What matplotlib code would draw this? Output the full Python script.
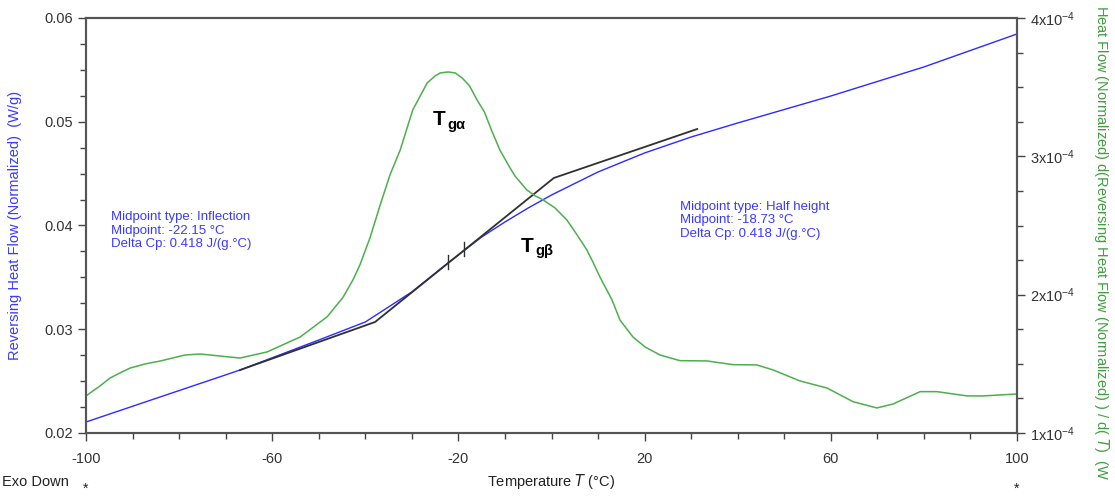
import numpy as np
import matplotlib
matplotlib.use("Agg")
import matplotlib.pyplot as plt
from matplotlib.ticker import MultipleLocator, FixedLocator, FuncFormatter

plt.rcParams['font.family'] = ['Liberation Sans', 'DejaVu Sans']
plt.rcParams['axes.unicode_minus'] = False

# reversing heat flow (W/g), left axis
temp_rev = [-100, -80, -66.9, -50, -40, -30, -22, -15, -10, -5, 0, 10, 20, 30, 40, 60, 80, 100]
rev_flow = [0.02106, 0.02409, 0.02607, 0.02896, 0.0307, 0.0336, 0.03648, 0.03889, 0.04034,
            0.04169, 0.04294, 0.04516, 0.04699, 0.04853, 0.04988, 0.05248, 0.05528, 0.05846]

# derivative curve (x1e-4), right axis
temp_der = [-100, -97.0, -94.8, -92.7, -90.5, -87.2, -84.1, -78.7, -75.5, -73.4, -70.0, -66.9,
            -61.1, -54.0, -48.2, -44.8, -42.6, -41.1, -39.0, -36.8, -34.7, -32.5, -29.8,
            -26.7, -25.0, -23.9, -22.2, -20.7, -19.2, -17.6, -16.0, -14.4, -12.9, -11.1,
            -8.9, -7.8, -5.3, -3.5, -1.8, 0.75, 3.3, 5.5, 7.6, 8.9, 10.4, 13.0, 14.7,
            17.5, 20.1, 23.3, 27.6, 33.4, 39.0, 44.1, 47.6, 53.4, 59.2, 64.8,
            69.9, 73.4, 79.2, 82.8, 89.3, 92.7, 96.3, 100]
deriv = [1.268, 1.34, 1.398, 1.434, 1.47, 1.50, 1.52, 1.564, 1.571, 1.564, 1.552, 1.542,
         1.586, 1.694, 1.84, 1.98, 2.11, 2.22, 2.41, 2.649, 2.866, 3.046, 3.336,
         3.531, 3.581, 3.603, 3.61, 3.603, 3.567, 3.509, 3.408, 3.32, 3.19, 3.046,
         2.916, 2.856, 2.757, 2.714, 2.685, 2.627, 2.54, 2.432, 2.323, 2.236, 2.128, 1.962, 1.817,
         1.694, 1.622, 1.564, 1.523, 1.521, 1.494, 1.492, 1.456, 1.376, 1.325,
         1.226, 1.181, 1.21, 1.299, 1.299, 1.268, 1.268, 1.275, 1.282]

# tangent construction (black)
tan_t = [-66.9, -37.9, 0.5, 31.3]
tan_v = [0.02607, 0.0307, 0.04458, 0.0493]
midpoints = [-22.15, -18.73]
mid_vals = [0.03648, 0.03775]

fig = plt.figure(figsize=(11.15, 4.99), dpi=100)
ax = fig.add_axes([86/1115, 1-433/499, 931/1115, 415/499])
ax2 = ax.twinx()

ax.plot(temp_rev, rev_flow, color='#2b2bff', lw=1.0, zorder=3)
ax.plot(tan_t, tan_v, color='#303030', lw=1.3, zorder=4)
for t, v in zip(midpoints, mid_vals):
    ax.plot([t, t], [v-0.0007, v+0.0007], color='#303030', lw=1.0, zorder=4)
ax2.plot(temp_der, np.array(deriv)*1e-4, color='#4caf4c', lw=1.1)

ax.set_xlim(-100, 100)
ax.set_ylim(0.02, 0.06)
ax2.set_ylim(1e-4, 4e-4)

ax.xaxis.set_major_locator(FixedLocator([-100, -60, -20, 20, 60, 100]))
ax.xaxis.set_minor_locator(MultipleLocator(10))
ax.yaxis.set_major_locator(MultipleLocator(0.01))
ax.yaxis.set_minor_locator(MultipleLocator(0.0025))
ax.yaxis.set_major_formatter(FuncFormatter(lambda v, p: '%.2f' % v))
ax2.yaxis.set_major_locator(MultipleLocator(1e-4))
ax2.yaxis.set_minor_locator(MultipleLocator(0.25e-4))
ax2.yaxis.set_major_formatter(FuncFormatter(
    lambda v, p: r'$\mathregular{%dx10^{-4}}$' % round(v*1e4)))

for a in (ax, ax2):
    a.tick_params(which='major', length=6, width=1, color='#444', labelsize=10.5, labelcolor='#333')
    a.tick_params(which='minor', length=4, width=1, color='#444')
    for s in a.spines.values():
        s.set_color('#555')
        s.set_linewidth(1.5)
ax.tick_params(axis='x', pad=8)

ax.set_ylabel('Reversing Heat Flow (Normalized)  (W/g)', color='#3a3aff', fontsize=10.5, labelpad=16)
fig.text(0.494, 0.035, 'Temperature $\\mathit{T}$ (°C)', ha='center', va='center',
         fontsize=10.5, color='#222')
fig.text(0.002, 0.035, 'Exo Down', ha='left', va='center', fontsize=10.5, color='#222')
fig.text(86/1115, 0.02, '*', ha='center', va='center', fontsize=10, color='#222')
fig.text(1017/1115, 0.02, '*', ha='center', va='center', fontsize=10, color='#222')
fig.text(1102/1115, 0.99, 'Heat Flow (Normalized) d(Reversing Heat Flow (Normalized) ) / d( $\\mathit{T}$)  (W',
         rotation=270, ha='center', va='top', fontsize=10.5, color='#3f9f3f')

ax.text(-94.6, 0.0395, 'Midpoint type: Inflection\nMidpoint: -22.15 °C\nDelta Cp: 0.418 J/(g.°C)',
        color='#3a3aff', fontsize=9.5, linespacing=1.2, va='center')
ax.text(27.5, 0.0405, 'Midpoint type: Half height\nMidpoint: -18.73 °C\nDelta Cp: 0.418 J/(g.°C)',
        color='#3a3aff', fontsize=9.5, linespacing=1.2, va='center')

ax.text(-25.6, 0.0502, 'T', fontsize=15, fontweight='bold', va='center')
ax.text(-22.4, 0.0497, 'gα', fontsize=10.5, fontweight='bold', va='center')
ax.text(-6.6, 0.0380, 'T', fontsize=15, fontweight='bold', va='center')
ax.text(-3.4, 0.0375, 'gβ', fontsize=10.5, fontweight='bold', va='center')

fig.savefig('out.png', dpi=100)
